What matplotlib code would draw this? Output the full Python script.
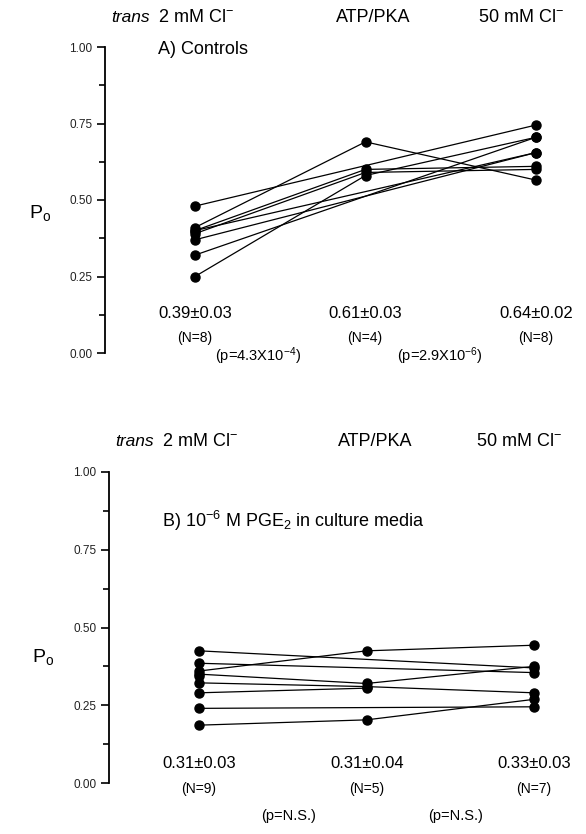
import matplotlib
matplotlib.use("Agg")
import matplotlib.pyplot as plt
import numpy as np

plt.rcParams['font.family'] = ['Liberation Sans', 'DejaVu Sans']
plt.rcParams['mathtext.fontset'] = 'custom'
plt.rcParams['mathtext.rm'] = 'Liberation Sans'
plt.rcParams['mathtext.it'] = 'Liberation Sans:italic'

# conditions (columns)
conditions = [1, 2, 3]
headers = ["2 mM Cl$^{-}$", "ATP/PKA", "50 mM Cl$^{-}$"]

# A) controls, one entry per channel (nan = not recorded)
nan = np.nan
a_cl2 = [0.48, 0.41, 0.25, 0.32, 0.40, 0.39, 0.37, 0.40]
a_atp = [nan, 0.69, 0.58, nan, 0.60, 0.59, nan, nan]
a_cl50 = [0.745, 0.565, 0.705, 0.705, 0.61, 0.60, 0.655, 0.655]
a_means = ["0.39\u00b10.03", "0.61\u00b10.03", "0.64\u00b10.02"]
a_n = ["(N=8)", "(N=4)", "(N=8)"]
a_p = ["(p=4.3X10$^{-4}$)", "(p=2.9X10$^{-6}$)"]

# B) PGE2 in culture media
b_cl2 = [0.425, 0.385, 0.36, 0.35, 0.322, 0.29, 0.24, 0.186, 0.345]
b_atp = [nan, nan, 0.425, 0.32, 0.31, 0.305, nan, 0.203, nan]
b_cl50 = [0.37, 0.355, 0.443, 0.375, 0.29, nan, 0.245, 0.269, nan]
b_means = ["0.31\u00b10.03", "0.31\u00b10.04", "0.33\u00b10.03"]
b_n = ["(N=9)", "(N=5)", "(N=7)"]
b_p = ["(p=N.S.)", "(p=N.S.)"]

W, H = 586, 834
fig = plt.figure(figsize=(W / 100, H / 100), dpi=100)


def px(x, y):
    return x / W, 1 - y / H


def make_panel(left, right, top, bottom, col1, col3):
    ax = fig.add_axes([left / W, 1 - bottom / H, (right - left) / W, (bottom - top) / H])
    unit = (col3 - col1) / 2
    ax.set_xlim(1 - (col1 - left) / unit, 3 + (right - col3) / unit)
    ax.set_ylim(0, 1)
    for s in ["top", "right", "bottom"]:
        ax.spines[s].set_visible(False)
    ax.spines["left"].set_linewidth(1.3)
    ax.set_xticks([])
    ax.set_yticks([0, 0.25, 0.5, 0.75, 1.0])
    ax.set_yticks([0.125, 0.375, 0.625, 0.875], minor=True)
    ax.set_yticklabels(["0.00", "0.25", "0.50", "0.75", "1.00"])
    ax.tick_params(axis="y", which="major", length=6, width=1.2, labelsize=8.5, pad=3,
                   labelcolor="#222222")
    ax.tick_params(axis="y", which="minor", length=4, width=1.2)
    ax.patch.set_alpha(0)
    return ax


def draw_subjects(ax, c1, c2, c3):
    for vals in zip(c1, c2, c3):
        xs = [c for c, v in zip(conditions, vals) if not np.isnan(v)]
        ys = [v for v in vals if not np.isnan(v)]
        ax.plot(xs, ys, color="black", lw=0.9, marker="o", ms=6.5, clip_on=False)


def panel_text(y_head, x_cols, y_mean, y_n, y_p, x_p, means, ns, ps, title, y_title, y_po, x_po):
    fig.text(*px(x_cols[0] - 64, y_head), "trans", style="italic", fontsize=12.5,
             ha="center", va="center")
    fig.text(*px(x_cols[0] - 37, y_head), headers[0], fontsize=13, ha="left", va="center")
    fig.text(*px(x_cols[1] + 8, y_head), headers[1], fontsize=13, ha="center", va="center")
    fig.text(*px(x_cols[2] - 58, y_head), headers[2], fontsize=13, ha="left", va="center")
    fig.text(*px(x_cols[0] - 37, y_title), title, fontsize=13, ha="left", va="center")
    for xc, m, n in zip(x_cols, means, ns):
        fig.text(*px(xc, y_mean), m, fontsize=12, ha="center", va="center")
        fig.text(*px(xc, y_n), n, fontsize=10, ha="center", va="center")
    for xp, p in zip(x_p, ps):
        fig.text(*px(xp, y_p), p, fontsize=10.5, ha="center", va="center")
    fig.text(*px(x_po, y_po), "P$_\\mathregular{o}$", fontsize=14, ha="center", va="center")


ax_a = make_panel(105, 575, 47, 353, 195, 536)
draw_subjects(ax_a, a_cl2, a_atp, a_cl50)
panel_text(18, [195, 365, 536], 313, 338, 356, [258, 440], a_means, a_n, a_p,
           "A) Controls", 49, 213, 40)

ax_b = make_panel(109, 575, 472, 783, 199, 534)
draw_subjects(ax_b, b_cl2, b_atp, b_cl50)
panel_text(441, [199, 367, 534], 764, 789, 816, [289, 456], b_means, b_n, b_p,
           "B) 10$^{-6}$ M PGE$_2$ in culture media", 521, 657, 43)

fig.savefig("out.png", dpi=100)
